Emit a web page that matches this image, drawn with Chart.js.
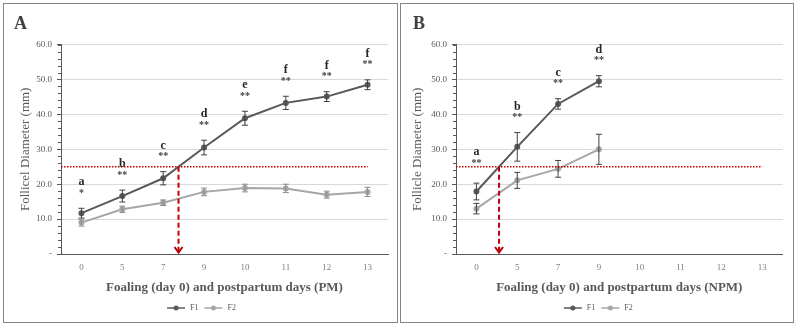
<!DOCTYPE html>
<html>
<head>
<meta charset="utf-8">
<script src="https://cdn.jsdelivr.net/npm/chart.js@4.4.0/dist/chart.umd.min.js"></script>
<style>
  body { margin: 0; background: #fff; width: 796px; height: 326px; position: relative; overflow: hidden; }
  canvas { position: absolute; top: 0; }
  .frame { position: absolute; border: 1.5px solid #858585; box-sizing: border-box; pointer-events: none; }
</style>
</head>
<body>
<div class="frame" style="left:3px;top:3px;width:394.5px;height:319.5px"></div>
<div class="frame" style="left:400px;top:3px;width:393.5px;height:319.5px"></div>
<canvas id="pm" width="402" height="326" style="left:0"></canvas>
<canvas id="npm" width="397" height="326" style="left:399px"></canvas>
<script>
var days = ['0', '5', '7', '9', '10', '11', '12', '13'];

// PM panel (A)
var pmF1 = [11.7, 16.6, 21.7, 30.5, 38.9, 43.3, 45.1, 48.5];
var pmF1Err = [1.4, 1.7, 1.9, 2.1, 2.0, 1.9, 1.4, 1.4];
var pmF2 = [9.0, 12.8, 14.7, 17.8, 18.9, 18.8, 17.0, 17.8];
var pmF2Err = [1.0, 0.9, 0.8, 1.1, 1.1, 1.2, 1.0, 1.3];
var pmLetters = ['a', 'b', 'c', 'd', 'e', 'f', 'f', 'f'];
var pmStars = ['*', '**', '**', '**', '**', '**', '**', '**'];

// NPM panel (B)
var npmF1 = [17.9, 30.7, 43.0, 49.5, null, null, null, null];
var npmF1Err = [2.4, 4.1, 1.5, 1.6];
var npmF2 = [13.0, 21.1, 24.4, 30.0, null, null, null, null];
var npmF2Err = [1.5, 2.3, 2.4, 4.3];
var npmLetters = ['a', 'b', 'c', 'd'];
var npmStars = ['**', '**', '**', '**'];

var threshold = 25;

var serif = 'Liberation Serif, "DejaVu Serif", serif';
var dark = '#595959';
var light = '#a6a6a6';
var red = '#c00000';

function swatch(color) {
  var c = document.createElement('canvas');
  c.width = 20; c.height = 8;
  var g = c.getContext('2d');
  g.strokeStyle = color; g.lineWidth = 1.5;
  g.beginPath(); g.moveTo(1, 4); g.lineTo(19, 4); g.stroke();
  g.fillStyle = color;
  g.beginPath(); g.arc(10, 4, 2.5, 0, Math.PI * 2); g.fill();
  return c;
}

var extras = {
  id: 'extras',
  afterDatasetsDraw: function (chart) {
    var ctx = chart.ctx, xs = chart.scales.x, ys = chart.scales.y, area = chart.chartArea;
    var o = chart.options.plugins.extras;
    ctx.save();

    // minor ticks on the value axis
    ctx.strokeStyle = dark; ctx.lineWidth = 1;
    for (var v = 0; v <= 60; v += 2) {
      var py = Math.round(ys.getPixelForValue(v)) + 0.5;
      ctx.beginPath(); ctx.moveTo(area.left - 3, py); ctx.lineTo(area.left, py); ctx.stroke();
    }

    // error bars
    chart.data.datasets.forEach(function (ds) {
      ctx.strokeStyle = ds.errorColor; ctx.lineWidth = 1;
      ds.data.forEach(function (val, i) {
        if (val == null) return;
        var px = xs.getPixelForValue(i);
        var t = ys.getPixelForValue(val + ds.errors[i]);
        var b = ys.getPixelForValue(val - ds.errors[i]);
        ctx.beginPath();
        ctx.moveTo(px, t); ctx.lineTo(px, b);
        ctx.moveTo(px - 3, t); ctx.lineTo(px + 3, t);
        ctx.moveTo(px - 3, b); ctx.lineTo(px + 3, b);
        ctx.stroke();
      });
    });

    // threshold line
    var y25 = ys.getPixelForValue(threshold);
    ctx.strokeStyle = red; ctx.lineWidth = 1.5; ctx.setLineDash([1.5, 1.5]);
    ctx.beginPath(); ctx.moveTo(area.left, y25); ctx.lineTo(xs.getPixelForValue(days.length - 1), y25); ctx.stroke();

    // crossing arrow of F1 through the threshold
    var f1 = chart.data.datasets[0].data, cx = null;
    for (var i = 0; i < f1.length - 1; i++) {
      if (f1[i] != null && f1[i + 1] != null && f1[i] < threshold && f1[i + 1] >= threshold) {
        var fr = (threshold - f1[i]) / (f1[i + 1] - f1[i]);
        cx = xs.getPixelForValue(i) + fr * (xs.getPixelForValue(i + 1) - xs.getPixelForValue(i));
        break;
      }
    }
    if (cx !== null) {
      var y0 = ys.getPixelForValue(0);
      ctx.lineWidth = 2; ctx.setLineDash([5, 3]);
      ctx.beginPath(); ctx.moveTo(cx, y25); ctx.lineTo(cx, y0 - 2); ctx.stroke();
      ctx.setLineDash([]);
      ctx.beginPath(); ctx.moveTo(cx - 4, y0 - 7); ctx.lineTo(cx, y0 - 1.5); ctx.lineTo(cx + 4, y0 - 7); ctx.stroke();
    }
    ctx.setLineDash([]);

    // significance labels above F1
    var ds1 = chart.data.datasets[0];
    ctx.textAlign = 'center'; ctx.textBaseline = 'middle';
    o.letters.forEach(function (l, i) {
      var px = xs.getPixelForValue(i);
      var top = ys.getPixelForValue(ds1.data[i] + ds1.errors[i]);
      // keep the first label of a steep segment clear of the line
      var lift = (i === 0 && ds1.data[1] - ds1.data[0] > 10) ? 5 : 0;
      ctx.fillStyle = '#404040';
      ctx.font = 'bold 10px ' + serif;
      ctx.fillText(o.stars[i], px, top - 15 - lift);
      ctx.fillStyle = '#262626';
      ctx.font = 'bold 12px ' + serif;
      ctx.fillText(l, px, top - 26 - lift);
    });
    ctx.restore();
  }
};

function makePanel(id, letter, yTitle, xTitle, f1, f1Err, f2, f2Err, f2ErrColor, letters, stars, yWidth, yTitlePad, padRight) {
  var swatches = [swatch(dark), swatch(light)];
  return new Chart(document.getElementById(id), {
    type: 'line',
    data: {
      labels: days,
      datasets: [
        {
          label: 'F1', data: f1, errors: f1Err, errorColor: '#404040',
          borderColor: dark, backgroundColor: dark, borderWidth: 2,
          pointRadius: 3, pointBorderWidth: 0, pointBackgroundColor: dark, tension: 0
        },
        {
          label: 'F2', data: f2, errors: f2Err, errorColor: f2ErrColor,
          borderColor: light, backgroundColor: light, borderWidth: 2,
          pointRadius: 3, pointBorderWidth: 0, pointBackgroundColor: light, tension: 0
        }
      ]
    },
    options: {
      responsive: false,
      animation: false,
      events: [],
      layout: { padding: { left: 14, right: padRight, top: 0, bottom: 4 } },
      scales: {
        x: {
          offset: true,
          afterFit: function (s) { s.height = 45; },
          grid: { display: false, drawTicks: false, tickLength: 0 },
          border: { display: true, color: dark, width: 1 },
          ticks: { font: { family: serif, size: 9 }, color: '#7f7f7f', padding: 8 },
          title: { display: true, text: xTitle, font: { family: serif, size: 13, weight: 'bold' }, color: dark, padding: { top: 0, bottom: 4 } }
        },
        y: {
          min: 0, max: 60,
          afterFit: function (s) { s.width = yWidth; },
          ticks: {
            stepSize: 10, font: { family: serif, size: 9 }, color: dark, padding: 5,
            callback: function (v) { return v === 0 ? '-' : v.toFixed(1); }
          },
          grid: { color: '#d9d9d9', tickColor: dark, tickLength: 4 },
          border: { color: dark, width: 1 },
          title: { display: true, text: yTitle, font: { family: serif, size: 13, lineHeight: 1 }, color: dark, padding: { top: yTitlePad, bottom: 0 } }
        }
      },
      plugins: {
        title: { display: true, text: letter, align: 'start', font: { family: serif, size: 18, weight: 'bold' }, color: '#404040', padding: { top: 14, bottom: 9 } },
        legend: {
          position: 'bottom',
          labels: {
            usePointStyle: true, pointStyleWidth: 20, padding: 5,
            font: { family: serif, size: 8 }, color: dark,
            generateLabels: function (chart) {
              var items = Chart.defaults.plugins.legend.labels.generateLabels(chart);
              items.forEach(function (it, i) { it.pointStyle = swatches[i]; });
              return items;
            }
          }
        },
        tooltip: { enabled: false },
        extras: { letters: letters, stars: stars }
      }
    },
    plugins: [extras]
  });
}

makePanel('pm', 'A', 'Follicel Diameter (mm)', 'Foaling (day 0) and postpartum days (PM)',
  pmF1, pmF1Err, pmF2, pmF2Err, '#8c8c8c', pmLetters, pmStars, 47, 5, 14);
makePanel('npm', 'B', 'Follicle Diameter (mm)', 'Foaling (day 0) and postpartum days (NPM)',
  npmF1, npmF1Err, npmF2, npmF2Err, '#404040', npmLetters, npmStars, 43, -2, 13.4);
</script>
</body>
</html>
